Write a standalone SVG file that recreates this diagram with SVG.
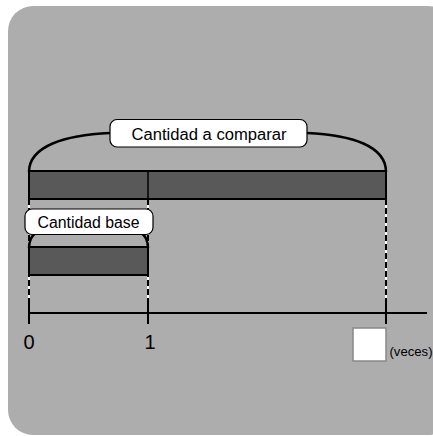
<svg xmlns="http://www.w3.org/2000/svg" width="433" height="436" viewBox="0 0 433 436">
<style>
.bar{fill:#595959;stroke:#000;stroke-width:2}
.brace{fill:none;stroke:#000;stroke-width:2.5}
.lbl{fill:#fff;stroke:#000;stroke-width:1.2}
.t{font-family:"Liberation Sans","Open Sans",sans-serif;fill:#000}
.dw{stroke:#fff;stroke-width:2}
.db{stroke:#000;stroke-width:2;stroke-dasharray:6 3}
.ax{stroke:#000;stroke-width:2;fill:none}
</style>
<rect x="8" y="6" width="445" height="429" rx="25" ry="25" fill="#adadad"/>
<g id="connectors">
<path class="dw" d="M29,199V318M148,199V318M386,199V318"/>
<path class="db" d="M29,199V318M148,199V318M386,199V318"/>
<path class="ax" d="M29,313H427M29,303V324M148,303V324M386,303V324"/>
<path class="brace" d="M29,172C29,146 65,135 110,133"/>
<path class="brace" d="M307,133C352,135 386,146 386,172"/>
<path class="brace" d="M29,248C29,240 31,236 36,233"/>
<path class="brace" d="M148,248C148,240 146,236 141,233"/>
</g>
<g id="bar-comparar">
<rect class="bar" x="29" y="171" width="357" height="28"/>
<line x1="148" y1="171" x2="148" y2="199" stroke="#000" stroke-width="1.5"/>
</g>
<g id="label-comparar">
<rect class="lbl" x="110" y="119.5" width="197" height="27.5" rx="7"/>
<text class="t" x="209" y="139.5" font-size="16" text-anchor="middle" textLength="155" lengthAdjust="spacingAndGlyphs">Cantidad a comparar</text>
</g>
<g id="bar-base">
<rect class="bar" x="29" y="247" width="119" height="28"/>
</g>
<g id="label-base">
<rect class="lbl" x="25" y="209" width="128" height="25.5" rx="7"/>
<text class="t" x="88.5" y="227.5" font-size="16" text-anchor="middle" textLength="102" lengthAdjust="spacingAndGlyphs">Cantidad base</text>
</g>
<g id="tick-0"><text class="t" x="29" y="348.5" font-size="20" text-anchor="middle">0</text></g>
<g id="tick-1"><text class="t" x="150" y="348.5" font-size="20" text-anchor="middle">1</text></g>
<g id="answer">
<rect x="353" y="328" width="33" height="33" fill="#fff" stroke="#888" stroke-width="1.5"/>
<text class="t" x="389.5" y="356" font-size="12.5" textLength="43" lengthAdjust="spacingAndGlyphs">(veces)</text>
</g>
</svg>
